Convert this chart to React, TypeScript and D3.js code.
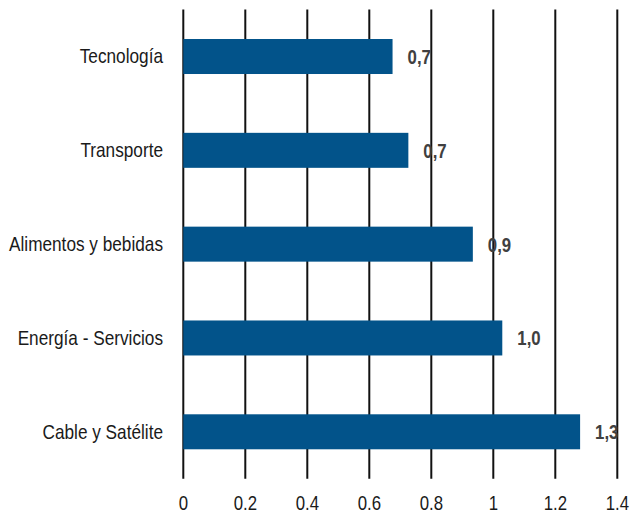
import React from "react";
import * as d3 from "d3";

const categories = ["Tecnología", "Transporte", "Alimentos y bebidas", "Energía - Servicios", "Cable y Satélite"];
const values = [0.675, 0.726, 0.934, 1.029, 1.28];
const valueLabels = ["0,7", "0,7", "0,9", "1,0", "1,3"];
const ticks = [0, 0.2, 0.4, 0.6, 0.8, 1, 1.2, 1.4];
const tickLabels = ["0", "0.2", "0.4", "0.6", "0.8", "1", "1.2", "1.4"];

const W = 630;
const H = 513;
const FONT = "'Liberation Sans', Arial, sans-serif";
const SX = 0.82;

function NText(props: {
  x: number;
  y: number;
  anchor?: "start" | "middle" | "end";
  size: number;
  weight?: string;
  fill: string;
  dy?: string;
  children: React.ReactNode;
}) {
  return (
    <text
      transform={`translate(${props.x},${props.y}) scale(${SX},1)`}
      textAnchor={props.anchor || "start"}
      fontFamily={FONT}
      fontSize={props.size}
      fontWeight={props.weight || "normal"}
      fill={props.fill}
      dy={props.dy}
    >
      {props.children}
    </text>
  );
}

export default function App() {
  const x = d3.scaleLinear().domain([0, 1.4]).range([183.3, 617.3]);
  const y = d3
    .scaleBand<string>()
    .domain(categories)
    .range([9.6, 478.7])
    .paddingInner(0.627)
    .paddingOuter(0.3135);

  return (
    <svg width={W} height={H} style={{ position: "absolute", left: 0, top: 0, background: "#fff" }}>
      {ticks.map((t, i) => (
        <g key={i}>
          <line x1={x(t)} x2={x(t)} y1={9.6} y2={478.7} stroke="#111" strokeWidth={2} />
          <NText x={x(t)} y={510} anchor="middle" size={20.5} fill="#1a1a1a">
            {tickLabels[i]}
          </NText>
        </g>
      ))}
      {categories.map((c, i) => {
        const yy = y(c)!;
        const bw = y.bandwidth();
        return (
          <g key={c}>
            <rect x={x(0)} y={yy} width={x(values[i]) - x(0)} height={bw} fill="#02538A" />
            <NText x={163} y={yy + bw / 2} dy="0.33em" anchor="end" size={21} fill="#1a1a1a">
              {c}
            </NText>
            <NText x={x(values[i]) + 15} y={yy + bw / 2} dy="0.36em" size={20.5} weight="bold" fill="#404040">
              {valueLabels[i]}
            </NText>
          </g>
        );
      })}
    </svg>
  );
}
